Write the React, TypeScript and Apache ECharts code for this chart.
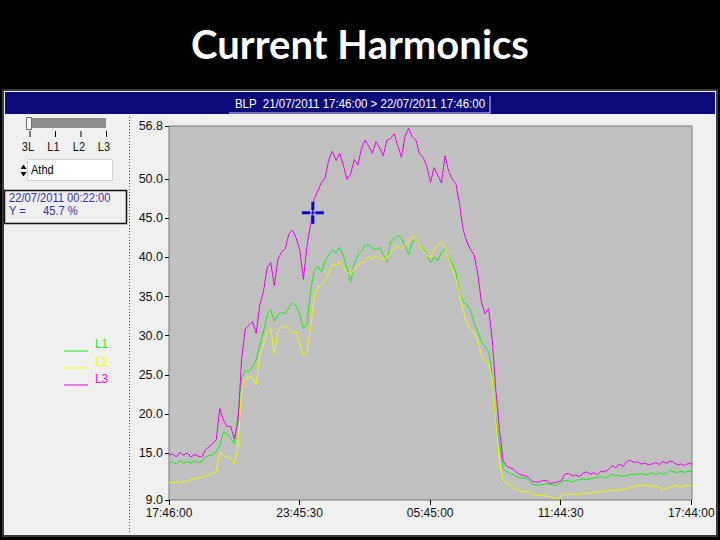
import React, { useEffect, useRef } from 'react';
import * as echarts from 'echarts';

const TITLE = 'Current Harmonics';
const HEADER = 'BLP  21/07/2011 17:46:00 > 22/07/2011 17:46:00';
const STEP_MIN = 10; // one sample every 10 minutes, starting 21/07/2011 17:46:00
const X_TICK_MIN = [0, 359.5, 719, 1078.5, 1438];
const X_TICK_LABELS = ['17:46:00', '23:45:30', '05:45:00', '11:44:30', '17:44:00'];
const Y_TICKS = [9.0, 15.0, 20.0, 25.0, 30.0, 35.0, 40.0, 45.0, 50.0, 56.8];
const PHASE_LABELS = ['3L', 'L1', 'L2', 'L3'];
const SERIES_NAMES = ['L1', 'L2', 'L3'];
const SERIES_COLORS = ['#10ec10', '#f6f600', '#ea00ea'];
const CURSOR_LABEL = '22/07/2011 00:22:00';
const CURSOR_MIN = 396;
const CURSOR_VALUE = 45.7;

const L1 = [
  13.7, 13.9, 13.6, 14.0, 13.7, 13.9, 13.7, 14.0, 13.8, 13.9, 14.5, 14.7, 14.7, 15.2,
  16.0, 17.7, 17.5, 16.9, 16.2, 19.9, 24.5,
  25.6, 25.4, 26.0, 26.9, 28.8, 30.5, 32.6, 33.3, 31.8, 32.6, 33.0, 32.8,
  33.6, 34.2, 33.8, 32.8, 30.9, 31.5, 35.8, 38.3,
  38.9, 38.2, 39.6, 40.3, 41.0, 40.6, 41.3, 40.2, 38.6, 36.9, 39.2, 40.3, 40.8, 41.6, 41.6, 41.2,
  41.0, 41.3, 40.4, 39.4, 42.0, 42.4, 42.8, 42.5, 41.4, 40.4, 42.0, 42.3, 41.6, 41.1, 40.5,
  39.3, 40.0, 39.6, 40.6, 41.2, 40.0, 39.2, 38.0, 35.5, 34.3, 34.0, 33.3, 31.6, 30.5, 29.3, 28.6,
  28.0, 25.0, 19.5, 16.2, 13.0, 12.6, 12.4, 12.2, 11.9, 11.8, 11.8, 11.6, 11.0, 10.9, 10.9, 11.0,
  11.1, 11.0, 10.9, 10.9,
  11.3, 11.5, 11.5, 11.3, 11.5, 11.6, 11.7, 11.6, 11.7, 11.8, 11.9, 12.0, 11.8, 12.0, 12.3, 12.1,
  12.2, 12.0, 12.1, 12.3, 12.2, 12.3, 12.4, 12.2, 12.3, 12.5, 12.2, 12.5, 12.3, 12.4, 12.8, 12.6,
  12.5, 12.7, 12.5, 12.7, 12.6,
];

const L2 = [
  11.3, 11.1, 11.4, 11.2, 11.3, 11.4, 11.6, 11.7, 11.8, 11.9, 12.0, 12.2, 12.4, 12.6,
  15.1, 14.7, 14.5, 14.3, 13.6, 15.6, 23.3,
  24.5, 24.7, 24.7, 23.7, 27.5, 28.8, 30.5, 30.9, 27.7, 30.5, 31.1, 31.3,
  30.8, 30.3, 30.5, 29.0, 27.5, 28.0, 31.0, 35.0,
  36.2, 36.5, 37.1, 38.0, 39.2, 39.0, 39.4, 38.8, 38.1, 37.8, 38.6, 39.0, 39.4, 39.4, 40.1, 39.8,
  40.2, 39.9, 39.8, 39.8, 40.7, 41.1, 41.5, 41.1, 41.5, 42.0, 42.8, 42.3, 41.6, 40.8, 40.3,
  40.0, 41.0, 41.6, 42.0, 41.2, 39.8, 38.5, 37.2, 35.5, 33.2, 31.5, 30.8, 30.4, 29.4, 27.5, 26.7,
  26.4, 24.5, 19.0, 13.8, 11.5, 11.2, 10.9, 10.5, 10.3, 10.1, 10.1, 10.1, 9.8, 9.6, 9.6, 9.6,
  9.5, 9.4, 9.2, 9.2,
  9.5, 9.8, 9.7, 9.8, 9.7, 9.8, 9.9, 9.8, 9.9, 10.0, 10.0, 10.1, 10.0, 10.2, 10.2, 10.3,
  10.2, 10.4, 10.4, 10.6, 10.7, 10.8, 10.9, 10.8, 10.9, 10.7, 10.8, 10.6, 10.3, 10.5, 10.6, 10.7,
  10.9, 10.6, 10.8, 10.9, 10.8,
];

const L3 = [
  14.7, 14.9, 14.5, 15.1, 14.7, 15.0, 14.5, 14.8, 14.6, 14.5, 15.4, 15.8, 16.2, 16.7,
  20.7, 19.2, 18.4, 18.4, 16.8, 19.0, 27.0,
  30.9, 31.3, 31.8, 30.3, 33.9, 35.6, 38.6, 39.4, 36.4, 39.8, 40.7, 41.1,
  43.0, 43.5, 42.5, 41.0, 37.2, 41.5, 44.2, 47.5,
  48.5, 49.6, 50.2, 52.5, 53.6, 52.4, 53.3, 51.8, 50.0, 50.6, 52.5, 51.8, 53.9, 55.0, 54.2, 53.3,
  54.8, 54.0, 53.0, 55.0, 55.2, 55.8, 54.2, 52.8, 55.5, 56.5, 55.4, 55.0, 53.2, 52.8, 51.6,
  49.6, 51.5, 50.5, 49.5, 53.0, 51.0, 50.0, 49.4, 46.8, 43.5, 42.0, 41.0, 40.3, 38.0, 34.3, 32.8,
  33.5, 29.5, 23.0, 18.0, 14.0, 13.3, 13.1, 12.9, 12.4, 12.2, 12.1, 11.9, 11.4, 11.3, 11.3, 11.5,
  11.5, 11.1, 11.2, 11.3,
  11.5, 12.3, 12.4, 12.1, 12.2, 12.0, 12.4, 12.6, 12.3, 12.5, 12.2, 12.7, 12.6, 12.9, 13.4, 13.1,
  13.6, 13.3, 13.9, 14.1, 13.8, 13.9, 13.6, 13.7, 13.5, 13.6, 13.8, 13.5, 13.9, 13.7, 14.0, 13.8,
  13.5, 13.6, 13.4, 13.7, 13.6,
];

const FONT = '"Liberation Sans", Arial, sans-serif';
const CROSS_PATH =
  'path://M0,9.5h8.3v3h-8.3Z M13.7,9.5h8.3v3h-8.3Z M9.5,0h3v8.3h-3Z M9.5,13.7h3v8.3h-3Z M8.7,10.5h4.6v1h-4.6Z M10.5,8.7h1v4.6h-1Z';

function toPairs(vals: number[]) {
  return vals.map((v, i) => [i * STEP_MIN, v]);
}

function txt(x: number, y: number, text: string, fill: string, size: number, align: string, sx = 1, weight = 'normal', family = FONT) {
  return {
    type: 'text',
    x,
    y,
    scaleX: sx,
    z: 5,
    style: { text, fill, font: `${weight} ${size}px ${family}`, textAlign: align, textVerticalAlign: 'middle' },
  };
}

function staticGraphics() {
  const g: any[] = [];
  g.push(txt(360, 44, TITLE, '#ffffff', 40, 'center', 1, 'bold', 'Lato, "Open Sans", sans-serif'));
  g.push({ type: 'rect', z: -10, shape: { x: 3, y: 90, width: 714, height: 446 }, style: { fill: '#f0f0f0', stroke: '#3a3a3a', lineWidth: 2 } });
  g.push({ type: 'rect', z: -9, shape: { x: 5, y: 92, width: 710, height: 22 }, style: { fill: '#0a0a7a' } });
  g.push(txt(360, 104, HEADER, '#ffffff', 12.5, 'center', 0.92));
  g.push({ type: 'polyline', z: 5, shape: { points: [[229, 113], [490, 113], [490, 96]] }, style: { stroke: '#dcdcff', lineWidth: 1, fill: null } });
  // slider
  g.push({ type: 'rect', z: 5, shape: { x: 32, y: 118, width: 74, height: 10 }, style: { fill: '#8c8c8c' } });
  g.push({ type: 'rect', z: 6, shape: { x: 26.5, y: 117.5, width: 5, height: 12 }, style: { fill: '#f6f6f6', stroke: '#707070', lineWidth: 1 } });
  const tickX = [30, 55.5, 81, 106.5];
  const labX = [28, 53.5, 79, 104];
  PHASE_LABELS.forEach((lab, i) => {
    g.push({ type: 'line', z: 5, shape: { x1: tickX[i], y1: 131, x2: tickX[i], y2: 137 }, style: { stroke: '#000', lineWidth: 1 } });
    g.push(txt(labX[i], 147, lab, '#111', 12, 'center', 0.92));
  });
  // spinner
  g.push({ type: 'rect', z: 5, shape: { x: 27.5, y: 159.5, width: 85, height: 21 }, style: { fill: '#ffffff', stroke: '#d0d0d0', lineWidth: 1 } });
  g.push({ type: 'polygon', z: 5, shape: { points: [[20.5, 169], [26.5, 169], [23.5, 164.5]] }, style: { fill: '#000' } });
  g.push({ type: 'polygon', z: 5, shape: { points: [[20.5, 172], [26.5, 172], [23.5, 176.5]] }, style: { fill: '#000' } });
  g.push(txt(31, 170, 'Athd', '#000', 12, 'left', 0.92));
  // info box
  g.push({ type: 'rect', z: 5, shape: { x: 4.5, y: 190.5, width: 122, height: 33 }, style: { fill: null, stroke: '#111', lineWidth: 1.5 } });
  g.push(txt(9, 197.5, CURSOR_LABEL, '#3232a8', 12, 'left', 0.93));
  g.push(txt(9, 211, 'Y =', '#3232a8', 12, 'left', 0.93));
  g.push(txt(43, 211, CURSOR_VALUE.toFixed(1) + ' %', '#3232a8', 12, 'left', 0.93));
  // dotted separator
  g.push({ type: 'line', z: 5, shape: { x1: 129.5, y1: 117, x2: 129.5, y2: 532 }, style: { stroke: '#444', lineWidth: 1, lineDash: [1, 2] } });
  // legend
  const legTextY = [344, 361.5, 379];
  const legLineY = [351, 368, 385];
  SERIES_NAMES.forEach((n, i) => {
    g.push({ type: 'line', z: 5, shape: { x1: 64, y1: legLineY[i], x2: 88, y2: legLineY[i] }, style: { stroke: SERIES_COLORS[i], lineWidth: 1 } });
    g.push(txt(95, legTextY[i], n, SERIES_COLORS[i], 12.5, 'left', 0.92));
  });
  return g;
}

export default function App() {
  const ref = useRef<HTMLDivElement>(null);
  useEffect(() => {
    if (!ref.current) return;
    const chart = echarts.init(ref.current, null, { renderer: 'svg' });
    const series: any[] = [L1, L2, L3].map((vals, i) => ({
      name: SERIES_NAMES[i],
      type: 'line',
      data: toPairs(vals),
      showSymbol: false,
      symbol: 'none',
      lineStyle: { color: SERIES_COLORS[i], width: 1 },
      itemStyle: { color: SERIES_COLORS[i] },
      z: 2 + i,
      silent: true,
    }));
    series.push({
      name: 'cursor',
      type: 'scatter',
      data: [[CURSOR_MIN, CURSOR_VALUE]],
      symbol: CROSS_PATH,
      symbolSize: [22, 22],
      itemStyle: { color: '#0000d0', opacity: 1 },
      z: 10,
      silent: true,
    });
    chart.setOption({
      animation: false,
      backgroundColor: '#000000',
      graphic: { elements: staticGraphics() },
      grid: {
        left: 169,
        top: 126,
        width: 523,
        height: 374,
        show: true,
        backgroundColor: '#c0c0c0',
        borderColor: '#7a7a7a',
        borderWidth: 1,
        containLabel: false,
      },
      xAxis: {
        type: 'value',
        min: 0,
        max: 1440,
        axisLine: { show: false },
        splitLine: { show: false },
        axisTick: { show: true, customValues: X_TICK_MIN, length: 5, lineStyle: { color: '#000', width: 1 } },
        axisLabel: {
          show: true,
          customValues: X_TICK_MIN,
          formatter: (v: number) => {
            const idx = X_TICK_MIN.findIndex((t) => Math.abs(t - v) < 0.01);
            return idx >= 0 ? X_TICK_LABELS[idx] : '';
          },
          margin: 7,
          color: '#111',
          fontFamily: FONT,
          fontSize: 12,
        },
      },
      yAxis: {
        type: 'value',
        min: 9,
        max: 56.8,
        axisLine: { show: false },
        splitLine: { show: false },
        axisTick: { show: true, customValues: Y_TICKS, length: 4, lineStyle: { color: '#000', width: 1 } },
        axisLabel: {
          show: true,
          customValues: Y_TICKS,
          formatter: (v: number) => v.toFixed(1),
          margin: 6,
          color: '#111',
          fontFamily: FONT,
          fontSize: 12.5,
        },
      },
      series,
    });
    return () => chart.dispose();
  }, []);
  return <div ref={ref} style={{ position: 'absolute', left: 0, top: 0, width: 720, height: 540 }} />;
}
